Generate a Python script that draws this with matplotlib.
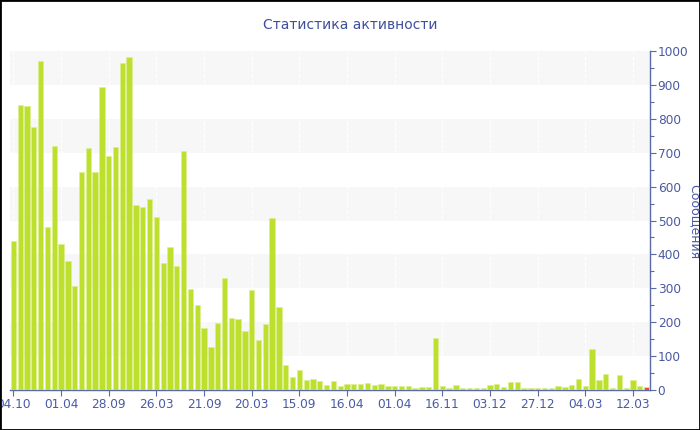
import matplotlib
matplotlib.use('Agg')
import matplotlib.pyplot as plt
from matplotlib.patches import Rectangle
from matplotlib.ticker import MultipleLocator

plt.rcParams['font.family'] = ['DejaVu Sans']

# messages per period
counts = [440, 841, 839, 775, 970, 482, 720, 430, 380, 306,
          644, 715, 644, 893, 691, 716, 965, 983, 546, 539,
          563, 509, 374, 421, 367, 705, 298, 251, 182, 126,
          197, 330, 213, 209, 175, 295, 148, 195, 507, 244,
          74, 37, 58, 29, 32, 27, 15, 27, 13, 17,
          17, 19, 20, 14, 17, 12, 13, 12, 12, 6,
          8, 8, 153, 12, 5, 15, 5, 5, 5, 7,
          16, 19, 9, 23, 25, 6, 5, 6, 5, 7,
          13, 8, 15, 32, 13, 121, 29, 47, 6, 44,
          6, 30, 12, 8]
tick_labels = ['04.10', '01.04', '28.09', '26.03', '21.09', '20.03', '15.09',
               '16.04', '01.04', '16.11', '03.12', '27.12', '04.03', '12.03']
tick_step = 7

title = 'Статистика активности'
ylabel = 'Сообщения'

text_color = '#4a5aa3'
bar_color = '#bde02e'
last_color = '#e8502c'

fig = plt.figure(figsize=(7, 4.3), dpi=100)
ax = fig.add_axes([10 / 700, 40 / 430, 640 / 700, 339 / 430])

x = list(range(len(counts)))
colors = [bar_color] * (len(counts) - 1) + [last_color]
ax.bar(x, counts, width=0.78, color=colors, edgecolor='#dcef90', linewidth=0.5, zorder=3)

# alternating horizontal bands
for y0 in range(100, 1000, 200):
    ax.axhspan(y0, y0 + 100, color='#f7f7f7', zorder=0, lw=0)

tick_pos = list(range(0, len(counts), tick_step))[:len(tick_labels)]
for p in tick_pos:
    ax.axvline(p, color='white', lw=0.8, ls='--', zorder=1)

ax.set_xlim(-0.5, len(counts) - 0.5)
ax.set_ylim(0, 1000)
ax.set_xticks(tick_pos)
ax.set_xticklabels(tick_labels)

ax.yaxis.tick_right()
ax.yaxis.set_major_locator(MultipleLocator(100))
ax.yaxis.set_minor_locator(MultipleLocator(50))

for s in ['top', 'left']:
    ax.spines[s].set_visible(False)
for s in ['bottom', 'right']:
    ax.spines[s].set_color('#5a6aa8')
    ax.spines[s].set_linewidth(1)

ax.tick_params(axis='both', colors='#5a6aa8', labelcolor=text_color, labelsize=8.7,
               length=4, width=0.8, pad=1.5)
ax.tick_params(axis='y', which='minor', colors='#5a6aa8', length=3, width=0.8)

fig.text(0.5, 1 - 25 / 430, title, ha='center', va='center', color='#3f4f9c', fontsize=10)
fig.text(694 / 700, 1 - 222 / 430, ylabel, ha='center', va='center', rotation=270,
         color=text_color, fontsize=9)

# frame round the whole picture
fig.patches.append(Rectangle((0, 0), 1, 1, transform=fig.transFigure, fill=False,
                             edgecolor='black', linewidth=2))

plt.savefig('out.png', dpi=100)
